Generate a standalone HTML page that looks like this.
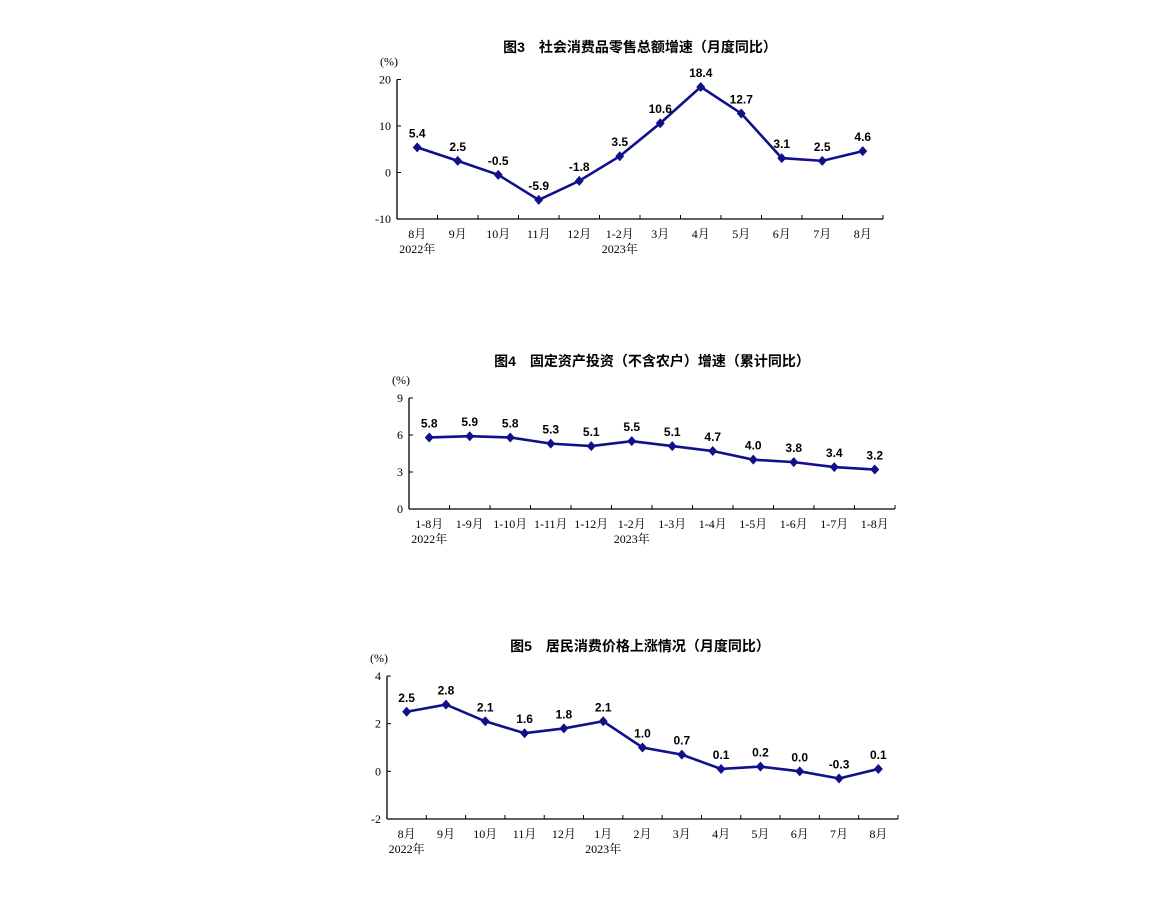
<!DOCTYPE html>
<html><head><meta charset="utf-8">
<style>
body{margin:0;background:#fff;}
svg{display:block;}
.t{font-family:"Liberation Sans","Noto Sans CJK SC",sans-serif;font-size:14px;font-weight:bold;fill:#000;}
.tk{font-family:"Liberation Serif","Noto Serif CJK SC",serif;font-size:12px;fill:#000;}
.v{font-family:"Liberation Sans",sans-serif;font-size:12px;font-weight:bold;fill:#000;}
</style></head>
<body>
<svg id="s" width="1151" height="898" xmlns="http://www.w3.org/2000/svg"></svg>
<script>
const c1Cats=["8月","9月","10月","11月","12月","1-2月","3月","4月","5月","6月","7月","8月"];
const c1Vals=[5.4,2.5,-0.5,-5.9,-1.8,3.5,10.6,18.4,12.7,3.1,2.5,4.6];
const c1Ticks=[20,10,0,-10];
const c2Cats=["1-8月","1-9月","1-10月","1-11月","1-12月","1-2月","1-3月","1-4月","1-5月","1-6月","1-7月","1-8月"];
const c2Vals=[5.8,5.9,5.8,5.3,5.1,5.5,5.1,4.7,4.0,3.8,3.4,3.2];
const c2Ticks=[9,6,3,0];
const c3Cats=["8月","9月","10月","11月","12月","1月","2月","3月","4月","5月","6月","7月","8月"];
const c3Vals=[2.5,2.8,2.1,1.6,1.8,2.1,1.0,0.7,0.1,0.2,0.0,-0.3,0.1];
const c3Ticks=[4,2,0,-2];

const NS="http://www.w3.org/2000/svg";
const svg=document.getElementById('s');
function mk(tag,attrs,parent){const e=document.createElementNS(NS,tag);for(const k in attrs)e.setAttribute(k,attrs[k]);(parent||svg).appendChild(e);return e;}

function chart(o){
  const g=mk('g',{});
  
  
  const n=o.cats.length, cw=(o.x1-o.x0)/n;
  const ymax=o.ticks[0], ymin=o.ticks[o.ticks.length-1];
  const Y=v=>o.yTop+(ymax-v)/(ymax-ymin)*(o.yBot-o.yTop);
  const X=i=>o.x0+cw*(i+0.5);
  const t=mk('text',{x:o.tx,y:o.ty,class:'t','text-anchor':'middle'},g);t.textContent=o.title;
  
  const u=mk('text',{x:o.x0-8,y:o.yTop-14,class:'tk','font-size':'10','text-anchor':'middle'},g);u.textContent="(%)";
  
  const ya=mk('line',{x1:o.x0,y1:o.yTop,x2:o.x0,y2:o.yBot,stroke:'#000','stroke-width':1.3},g);
  
  const xa=mk('line',{x1:o.x0,y1:o.yBot,x2:o.x1,y2:o.yBot,stroke:'#000','stroke-width':1.3},g);
  
  o.ticks.forEach(v=>{
    mk('line',{x1:o.x0,y1:Y(v),x2:o.x0+4,y2:Y(v),stroke:'#000'},g);
    const e=mk('text',{x:o.x0-6,y:Y(v)+4,class:'tk','text-anchor':'end'},g);e.textContent=v;
    
  });
  for(let i=1;i<=n;i++){mk('line',{x1:o.x0+cw*i,y1:o.yBot,x2:o.x0+cw*i,y2:o.yBot-4,stroke:'#000'},g);}
  o.cats.forEach((c,i)=>{
    const e=mk('text',{x:X(i),y:o.yBot+19,class:'tk','text-anchor':'middle'},g);e.textContent=c;
    
  });
  o.years.forEach(([i,s])=>{
    const e=mk('text',{x:X(i),y:o.yBot+34,class:'tk','text-anchor':'middle'},g);e.textContent=s;
    
  });
  const pts=o.vals.map((v,i)=>X(i)+','+Y(v)).join(' ');
  const pl=mk('polyline',{points:pts,fill:'none',stroke:'#10108a','stroke-width':2.6},g);
  
  o.vals.forEach((v,i)=>{
    const x=X(i),y=Y(v);
    const m=mk('polygon',{points:`${x},${y-5} ${x+4.5},${y} ${x},${y+5} ${x-4.5},${y}`,fill:'#10108a'},g);
    
    const e=mk('text',{x:x,y:y-10,class:'v','text-anchor':'middle'},g);e.textContent=v.toFixed(1);
    
  });
}
chart({name:'retail-sales-chart',title:'图3　社会消费品零售总额增速（月度同比）',tx:640,ty:52,cats:c1Cats,vals:c1Vals,ticks:c1Ticks,x0:397,x1:883,yTop:79.5,yBot:219,years:[[0,'2022年'],[5,'2023年']]});
chart({name:'fixed-investment-chart',title:'图4　固定资产投资（不含农户）增速（累计同比）',tx:652,ty:366,cats:c2Cats,vals:c2Vals,ticks:c2Ticks,x0:409,x1:895,yTop:398,yBot:509,years:[[0,'2022年'],[5,'2023年']]});
chart({name:'cpi-chart',title:'图5　居民消费价格上涨情况（月度同比）',tx:640,ty:651,cats:c3Cats,vals:c3Vals,ticks:c3Ticks,x0:387,x1:898,yTop:676,yBot:819,years:[[0,'2022年'],[5,'2023年']]});
</script>
</body></html>
